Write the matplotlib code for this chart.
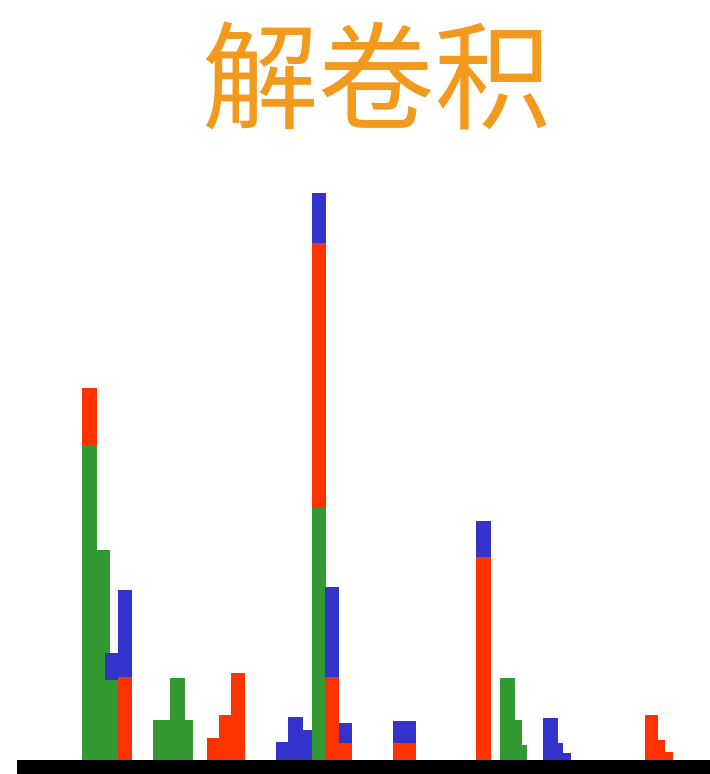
import matplotlib
matplotlib.use("Agg")
import matplotlib.pyplot as plt

# 每个分箱: 左边界, 右边界, 以及绿/红/蓝三个分量的堆叠高度
bin_left = [82, 97, 105, 118, 153, 170, 185, 207, 219, 231, 276, 288, 303,
            312, 325, 339, 393, 476, 500, 515, 522, 543, 558, 563, 645, 658, 665]
bin_right = [97, 110, 118, 132, 170, 185, 193, 219, 231, 245, 288, 303, 312,
             326, 339, 352, 416, 491, 515, 522, 527, 558, 563, 571, 658, 665, 673]
green = [315, 210, 80, 0, 40, 82, 40, 0, 0, 0, 0, 0, 0,
         253, 0, 0, 0, 0, 82, 40, 15, 0, 0, 0, 0, 0, 0]
red = [57, 0, 0, 83, 0, 0, 0, 22, 45, 87, 0, 0, 0,
       264, 83, 17, 17, 203, 0, 0, 0, 0, 0, 0, 45, 20, 8]
blue = [0, 0, 27, 87, 0, 0, 0, 0, 0, 0, 18, 43, 30,
        50, 90, 20, 22, 36, 0, 0, 0, 42, 17, 7, 0, 0, 0]

title = "解卷积"

GREEN = "#339933"
RED = "#FF3300"
BLUE = "#3333CC"
ORANGE = "#F29A1E"

fig = plt.figure(figsize=(7.1, 7.74), dpi=100)
ax = fig.add_axes([0, 0, 1, 1])

widths = [r - l for l, r in zip(bin_left, bin_right)]
red_bottom = green
blue_bottom = [g + r for g, r in zip(green, red)]

ax.bar(bin_left, green, width=widths, align="edge", color=GREEN, linewidth=0)
ax.bar(bin_left, red, width=widths, bottom=red_bottom, align="edge", color=RED, linewidth=0)
ax.bar(bin_left, blue, width=widths, bottom=blue_bottom, align="edge", color=BLUE, linewidth=0)

# 黑色基线
ax.axhspan(-16, 0, xmin=17 / 710, xmax=1, color="black", linewidth=0)

ax.set_xlim(0, 710)
ax.set_ylim(-14, 760)
ax.axis("off")

fig.text(0.53, 0.887, title, fontsize=84, color=ORANGE, ha="center", va="center",
         family=["Noto Sans CJK SC", "DejaVu Sans"])

fig.savefig("out.png", dpi=100, facecolor="white")
